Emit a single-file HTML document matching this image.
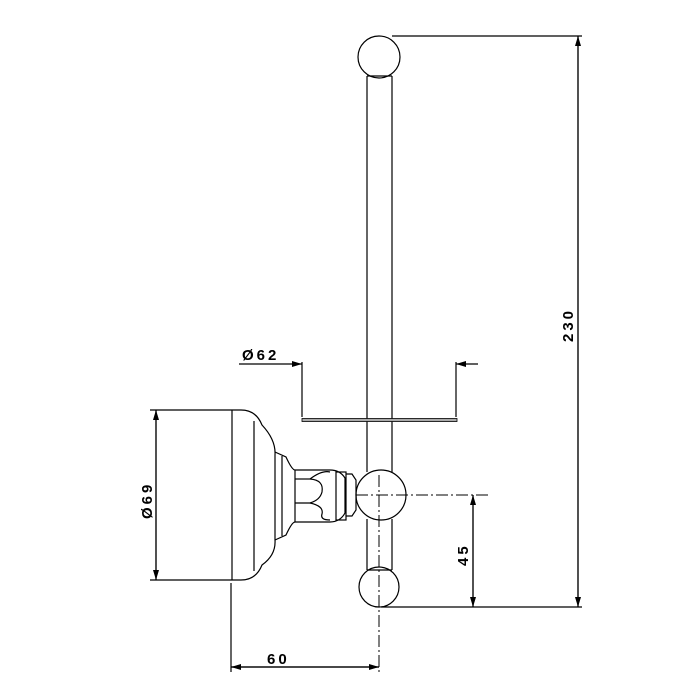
<!DOCTYPE html>
<html><head><meta charset="utf-8"><style>html,body{margin:0;padding:0;background:#fff}svg{display:block}</style></head>
<body>
<svg width="700" height="700" viewBox="0 0 700 700" xmlns="http://www.w3.org/2000/svg">
<defs>
<marker id="a" viewBox="0 0 10 6" refX="10" refY="3" markerWidth="10" markerHeight="6" markerUnits="userSpaceOnUse" orient="auto"><path d="M0,0 L10,3 L0,6 z" fill="#000"/></marker>
</defs>
<g fill="none" stroke="#000" stroke-width="1.2">
<circle cx="379" cy="57" r="21"/>
<line x1="367" y1="76" x2="367" y2="472"/>
<line x1="392" y1="76" x2="392" y2="472"/>
<line x1="367" y1="76" x2="392" y2="76"/>
<circle cx="381" cy="495" r="25"/>
<line x1="367" y1="519" x2="367" y2="570"/>
<line x1="392" y1="519" x2="392" y2="570"/>
<line x1="367" y1="570" x2="392" y2="570"/>
<circle cx="379" cy="587" r="20"/>
<path d="M232,410 L241,410 Q256,410 262,425 Q276,440 275,455 L275,540 Q276,555 262,565 Q256,580 241,580 L232,580"/>
<line x1="232" y1="410" x2="232" y2="580"/>
<line x1="254" y1="421" x2="254" y2="571"/>
<path d="M275,452 L286,457 Q292,470 295,470 L330,470 Q340,470 345,478 L345,513 Q340,522 330,522 L295,522 Q292,522 286,535 L275,540"/>
<line x1="282" y1="456" x2="282" y2="536"/>
<line x1="295" y1="470" x2="295" y2="522"/>
<line x1="295" y1="479" x2="310" y2="479"/>
<path d="M310,479 Q324,480 322,492 Q320,500 310,503 L295,503"/>
<path d="M310,479 Q322,470 330,472"/>
<path d="M310,503 Q324,506 322,514 Q320,520 330,520"/>
<rect x="336" y="472" width="10" height="48"/>
<path d="M346,474 L352,474 L356,480 L356,510 L352,516 L346,516"/>
<rect x="302" y="418.5" width="155" height="3" fill="#aaa" stroke-width="0.8"/>
<line x1="302" y1="362" x2="302" y2="417"/>
<line x1="456" y1="362" x2="456" y2="417"/>
<line x1="239" y1="364" x2="302" y2="364" marker-end="url(#a)"/>
<line x1="478" y1="364" x2="456" y2="364" marker-end="url(#a)"/>
<line x1="392" y1="36" x2="582" y2="36"/>
<line x1="578" y1="607" x2="578" y2="36" marker-end="url(#a)"/>
<line x1="578" y1="36" x2="578" y2="607" marker-end="url(#a)"/>
<line x1="381" y1="607" x2="582" y2="607"/>
<line x1="473" y1="495" x2="473" y2="607" marker-end="url(#a)"/>
<line x1="473" y1="607" x2="473" y2="495" marker-end="url(#a)"/>
<line x1="150" y1="410" x2="232" y2="410"/>
<line x1="150" y1="580" x2="232" y2="580"/>
<line x1="156" y1="410" x2="156" y2="580" marker-end="url(#a)"/>
<line x1="156" y1="580" x2="156" y2="410" marker-end="url(#a)"/>
<line x1="231" y1="583" x2="231" y2="672"/>
<line x1="231" y1="667" x2="379" y2="667" marker-end="url(#a)"/>
<line x1="379" y1="667" x2="231" y2="667" marker-end="url(#a)"/>
<line x1="379" y1="475" x2="379" y2="672" stroke-dasharray="12,3,2,3" stroke-width="1"/>
<line x1="356" y1="495" x2="490" y2="495" stroke-dasharray="12,3,2,3" stroke-width="1"/>
</g>
<g font-family="Liberation Sans, sans-serif" font-weight="bold" font-size="15" fill="#000" letter-spacing="3">
<text x="242" y="360">Ø62</text>
<text x="267" y="664">60</text>
<text transform="translate(573,342) rotate(-90)">230</text>
<text transform="translate(468,566) rotate(-90)">45</text>
<text transform="translate(152,519) rotate(-90)">Ø69</text>
</g>
</svg>
</body></html>
